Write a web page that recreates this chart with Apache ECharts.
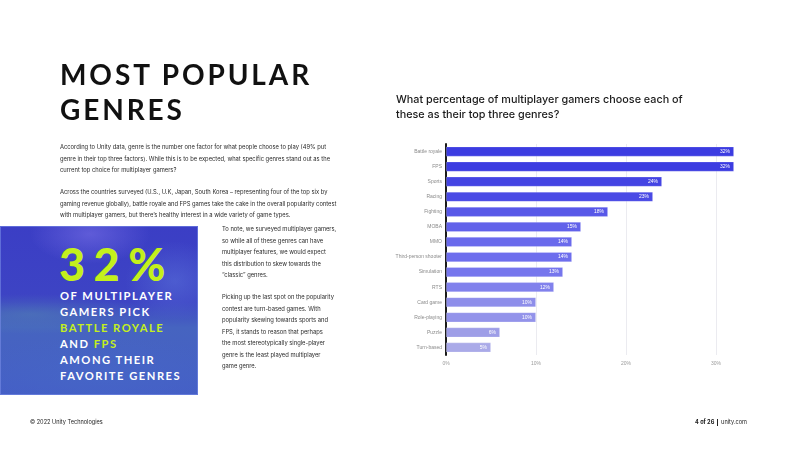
<!DOCTYPE html>
<html>
<head>
<meta charset="utf-8">
<script src="https://cdn.jsdelivr.net/npm/echarts@6/dist/echarts.min.js"></script>
<style>
  html, body { margin: 0; padding: 0; background: #fff; }
  #page { position: relative; width: 800px; height: 450px; overflow: hidden; font-family: Inter, "Noto Sans", sans-serif; }
  #chart { position: absolute; left: 0; top: 0; width: 800px; height: 450px; }
  .ov { position: absolute; pointer-events: none; white-space: nowrap; }
  #title { left: 60px; top: 57px; font-family: Lato, sans-serif; font-weight: 700; font-size: 28px; line-height: 35px; letter-spacing: 2.9px; color: #111; }
  .para { font-size: 5.8px; line-height: 11.5px; color: #2a2a2a; }
  #box { left: 0; top: 226px; width: 198px; height: 169px;
    background:
      radial-gradient(ellipse 60px 30px at 90px 8px, rgba(130,120,235,0.5), rgba(130,120,235,0) 100%),
      radial-gradient(ellipse 50px 40px at 175px 55px, rgba(100,130,225,0.4), rgba(100,130,225,0) 100%),
      radial-gradient(ellipse 120px 20px at 30px 88px, rgba(85,140,175,0.45), rgba(85,140,175,0) 100%),
      radial-gradient(ellipse 140px 40px at 100px 150px, rgba(70,105,200,0.55), rgba(70,105,200,0) 100%),
      linear-gradient(180deg, #3b3ec5 0%, #3d44c4 45%, #4664c0 60%, #455ec6 100%);
    box-shadow: inset 0 0 0 1px rgba(120,140,230,0.6); }
  #big { left: 59px; top: 239px; font-family: Lato, sans-serif; font-weight: 900; font-size: 45px; line-height: 50px; letter-spacing: 8.5px; color: #c4f01c; }
  #caps { left: 60px; top: 288px; font-family: Lato, sans-serif; font-weight: 700; font-size: 11.2px; line-height: 16px; letter-spacing: 1.5px; color: #fff; }
  #caps .g { color: #c4f01c; }
  .foot { font-size: 5.6px; color: #222; top: 419px; }
</style>
</head>
<body>
<div id="page">
  <div id="chart"></div>
  <div id="title" class="ov">MOST POPULAR<br>GENRES</div>
  <div class="ov para" style="left:60px; top:141px;">According to Unity data, genre is the number one factor for what people choose to play (49% put<br>genre in their top three factors). While this is to be expected, what specific genres stand out as the<br>current top choice for multiplayer gamers?</div>
  <div class="ov para" style="left:60px; top:186px;">Across the countries surveyed (U.S., U.K, Japan, South Korea – representing four of the top six by<br>gaming revenue globally), battle royale and FPS games take the cake in the overall popularity contest<br>with multiplayer gamers, but there’s healthy interest in a wide variety of game types.</div>
  <div class="ov para" style="left:222px; top:223px;">To note, we surveyed multiplayer gamers,<br>so while all of these genres can have<br>multiplayer features, we would expect<br>this distribution to skew towards the<br>“classic” genres.</div>
  <div class="ov para" style="left:222px; top:291px;">Picking up the last spot on the popularity<br>contest are turn-based games. With<br>popularity skewing towards sports and<br>FPS, it stands to reason that perhaps<br>the most stereotypically single-player<br>genre is the least played multiplayer<br>game genre.</div>
  <div id="box" class="ov"></div>
  <div id="big" class="ov">32%</div>
  <div id="caps" class="ov">OF MULTIPLAYER<br>GAMERS PICK<br><span class="g">BATTLE ROYALE</span><br>AND <span class="g">FPS</span><br>AMONG THEIR<br>FAVORITE GENRES</div>
  <div class="ov foot" style="left:30px;">© 2022 Unity Technologies</div>
  <div class="ov foot" style="right:53px;"><b>4 of 26</b> <span style="display:inline-block;width:0.7px;height:7px;background:#222;vertical-align:middle;margin:0 1.5px;"></span> unity.com</div>
</div>
<script>
const categories = ['Battle royale', 'FPS', 'Sports', 'Racing', 'Fighting', 'MOBA', 'MMO', 'Third-person shooter', 'Simulation', 'RTS', 'Card game', 'Role-playing', 'Puzzle', 'Turn-based'];
const values = [32, 32, 24, 23, 18, 15, 14, 14, 13, 12, 10, 10, 6, 5];
const tickValues = [0, 10, 20, 30];
const questionLines = ['What percentage of multiplayer gamers choose each of', 'these as their top three genres?'];

const barColors = ['#3c3ce1', '#3c3ce1', '#4444e3', '#4a4ae5', '#5858e8', '#6262ea', '#6a6aec', '#6e6eed', '#7676ed', '#8181ec', '#8e8eea', '#9393ea', '#9e9ee7', '#aaaae8'];

const chart = echarts.init(document.getElementById('chart'), null, { renderer: 'canvas' });
chart.setOption({
  animation: false,
  title: {
    text: questionLines.join('\n'),
    left: 391,
    top: 87,
    textStyle: { fontFamily: 'Inter', fontSize: 10.8, fontWeight: 500, color: '#1a1a1a', lineHeight: 15 }
  },
  grid: { left: 446, right: 66, top: 144, bottom: 95, containLabel: false },
  xAxis: {
    type: 'value',
    min: 0,
    max: 32,
    interval: 10,
    axisLine: { show: false },
    axisTick: { show: false },
    splitLine: { show: true, showMaxLine: false, lineStyle: { color: '#ebebf0', width: 1 } },
    axisLabel: {
      showMaxLabel: false,
      fontSize: 5,
      color: '#9a9a9a',
      margin: 6,
      formatter: function (v) { return tickValues.indexOf(v) >= 0 ? v + '%' : ''; }
    }
  },
  yAxis: {
    type: 'category',
    data: categories,
    inverse: true,
    axisLine: { show: true, lineStyle: { color: '#1a1a1a', width: 2 } },
    axisTick: { show: false },
    axisLabel: { fontSize: 5, color: '#8a8a8a', margin: 4 }
  },
  series: [{
    type: 'bar',
    data: values.map(function (v, i) { return { value: v, itemStyle: { color: barColors[i] } }; }),
    barWidth: 10,
    itemStyle: { borderColor: 'rgba(255,255,255,0.25)', borderWidth: 0.8 },
    label: {
      show: true,
      position: 'insideRight',
      distance: 4,
      color: '#fff',
      fontSize: 5,
      formatter: '{c}%'
    }
  }]
});
</script>
</body>
</html>
